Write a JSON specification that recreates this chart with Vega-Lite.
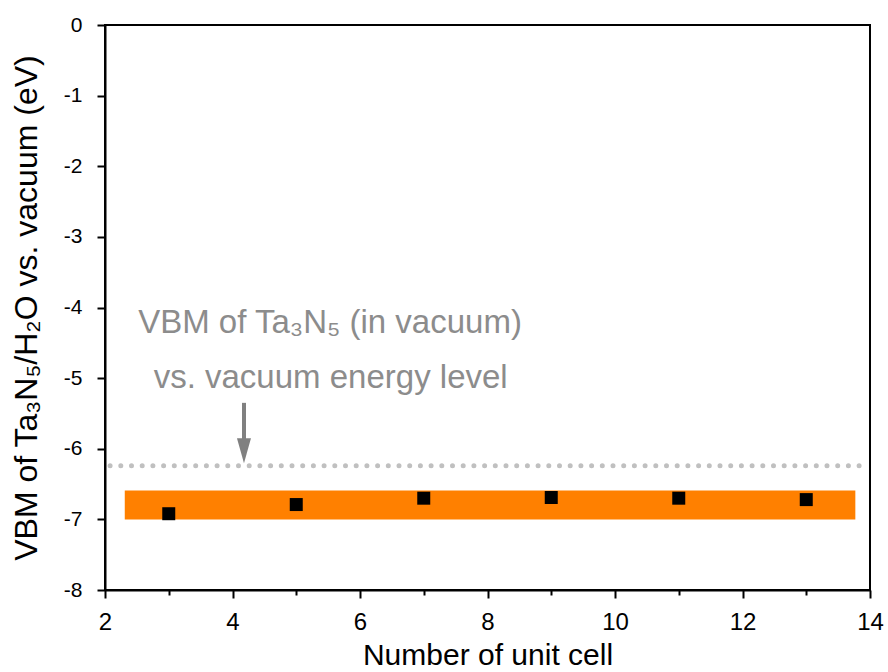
{
  "$schema": "https://vega.github.io/schema/vega-lite/v6.json",
  "width": 765,
  "height": 565,
  "autosize": {"type": "none"},
  "padding": {"left": 105, "top": 25, "right": 18, "bottom": 82},
  "background": "white",
  "config": {
    "font": "Liberation Sans",
    "view": {"stroke": "black", "strokeWidth": 2},
    "axis": {
      "domainColor": "black", "domainWidth": 2, "tickColor": "black", "tickWidth": 2,
      "labelColor": "black", "titleColor": "black", "titleFontWeight": "normal", "grid": false
    }
  },
  "datasets": {
    "points": [
      {"n": 3, "vbm": -6.92},
      {"n": 5, "vbm": -6.79},
      {"n": 7, "vbm": -6.70},
      {"n": 9, "vbm": -6.69},
      {"n": 11, "vbm": -6.70},
      {"n": 13, "vbm": -6.72}
    ],
    "band": [{"x": 2.31, "x2": 13.77, "y": -6.59, "y2": -7.0}],
    "ref": [{"x": 2.08, "x2": 13.89, "y": -6.24}],
    "shaft": [{"x": 4.18, "y": -5.35, "y2": -5.9}],
    "head": [{"x": 4.18, "y": -6.03}],
    "labels": [
      {"x": 5.53, "y": -4.36, "t": "VBM of Ta₃N₅ (in vacuum)"},
      {"x": 5.54, "y": -5.14, "t": "vs. vacuum energy level"}
    ]
  },
  "layer": [
    {
      "data": {"name": "band"},
      "mark": {"type": "rect", "color": "#ff8000"},
      "encoding": {
        "x": {
          "field": "x", "type": "quantitative",
          "scale": {"domain": [2, 14], "nice": false, "zero": false},
          "axis": {
            "title": "Number of unit cell", "titleFontSize": 30, "titlePadding": 6,
            "values": [2, 3, 4, 5, 6, 7, 8, 9, 10, 11, 12, 13, 14],
            "labelExpr": "datum.value % 2 === 0 ? '' + datum.value : ''",
            "labelFontSize": 24, "labelPadding": 12, "labelFlush": false, "labelOverlap": false,
            "tickSize": {"condition": {"test": "datum.value % 2 === 0", "value": 8}, "value": 5}
          }
        },
        "x2": {"field": "x2"},
        "y": {
          "field": "y", "type": "quantitative",
          "scale": {"domain": [-8, 0], "nice": false, "zero": false},
          "axis": {
            "title": "VBM of Ta₃N₅/H₂O vs. vacuum (eV)", "titleFontSize": 32, "titlePadding": 20,
            "values": [-8, -7.5, -7, -6.5, -6, -5.5, -5, -4.5, -4, -3.5, -3, -2.5, -2, -1.5, -1, -0.5, 0],
            "labelExpr": "datum.value % 1 === 0 ? '' + datum.value : ''",
            "labelFontSize": 21, "labelPadding": 15, "labelFlush": false, "labelOverlap": false,
            "tickSize": {"condition": {"test": "datum.value % 1 === 0", "value": 8}, "value": 5}
          }
        },
        "y2": {"field": "y2"}
      }
    },
    {
      "data": {"name": "ref"},
      "mark": {"type": "rule", "color": "#c0c0c0", "strokeWidth": 5, "strokeCap": "round", "strokeDash": [0, 10.7]},
      "encoding": {
        "x": {"field": "x", "type": "quantitative"},
        "x2": {"field": "x2"},
        "y": {"field": "y", "type": "quantitative"}
      }
    },
    {
      "data": {"name": "shaft"},
      "mark": {"type": "rule", "color": "#808080", "strokeWidth": 4},
      "encoding": {
        "x": {"field": "x", "type": "quantitative"},
        "y": {"field": "y", "type": "quantitative"},
        "y2": {"field": "y2"}
      }
    },
    {
      "data": {"name": "head"},
      "mark": {"type": "point", "shape": "M-0.56,-1L0.56,-1L0,1Z", "filled": true, "color": "#808080", "size": 625, "opacity": 1},
      "encoding": {
        "x": {"field": "x", "type": "quantitative"},
        "y": {"field": "y", "type": "quantitative"}
      }
    },
    {
      "data": {"name": "points"},
      "mark": {"type": "point", "shape": "square", "filled": true, "color": "black", "size": 169, "opacity": 1},
      "encoding": {
        "x": {"field": "n", "type": "quantitative"},
        "y": {"field": "vbm", "type": "quantitative"}
      }
    },
    {
      "data": {"name": "labels"},
      "mark": {"type": "text", "color": "#8c8c8c", "fontSize": 33, "align": "center", "baseline": "alphabetic"},
      "encoding": {
        "x": {"field": "x", "type": "quantitative"},
        "y": {"field": "y", "type": "quantitative"},
        "text": {"field": "t"}
      }
    }
  ]
}
